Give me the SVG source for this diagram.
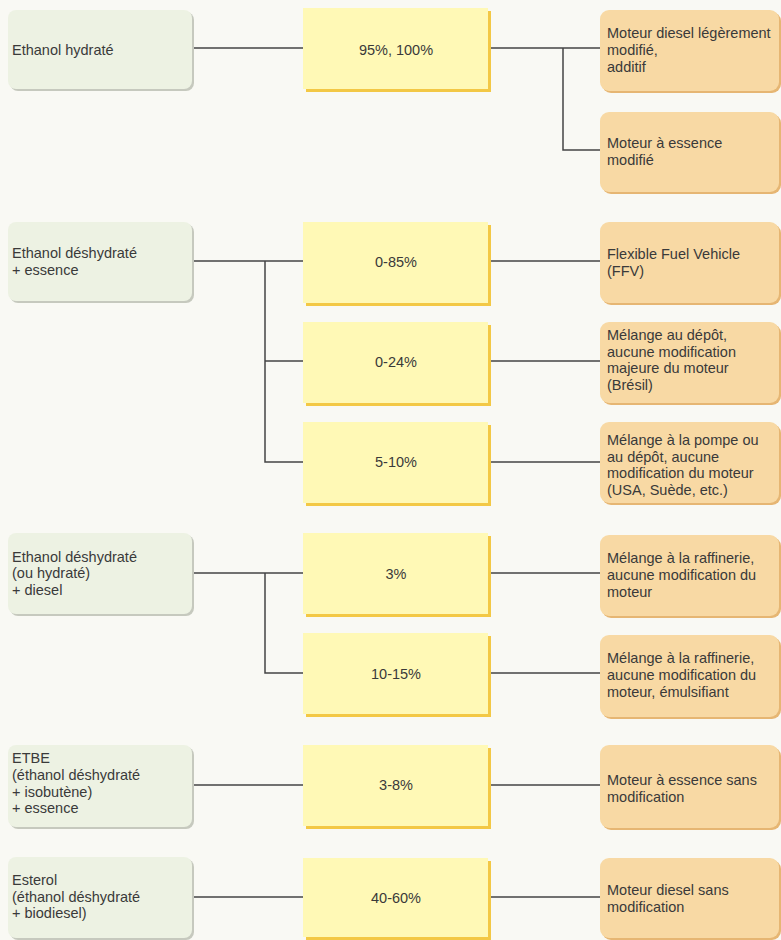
<svg xmlns="http://www.w3.org/2000/svg" width="781" height="940" viewBox="0 0 781 940">
<style>
.bg{fill:#F9F9F4}
.gs{fill:#C6C9BE}
.g{fill:#EDF2E3}
.ys{fill:#F3C845}
.y{fill:#FFF9B6}
.os{fill:#E6B673}
.o{fill:#F8D9A4}
text{font-family:"Liberation Sans",Arial,sans-serif;font-size:14.5px;fill:#3a3a3a}
.c{text-anchor:middle}
.ln{stroke:#444;stroke-width:1.5;fill:none}
</style>
<rect class="bg" x="0" y="0" width="781" height="940"/>
<g id="connectors">
<path class="ln" d="M192 48H303M490 48H600M563 48V150H600"/>
<path class="ln" d="M192 261H303M265 261V462H303M265 361H303M490 261H600M490 361H600M490 462H600"/>
<path class="ln" d="M192 573H303M265 573V673H303M490 573H600M490 673H600"/>
<path class="ln" d="M192 785H303M490 785H600"/>
<path class="ln" d="M192 897H303M490 897H600"/>
</g>
<g id="g1"><rect class="gs" x="10" y="12" width="184" height="79" rx="8"/><rect class="g" x="8" y="10" width="184" height="79" rx="8"/><text x="12" y="55">Ethanol hydraté</text></g>
<g id="g2"><rect class="gs" x="10" y="224" width="184" height="79" rx="8"/><rect class="g" x="8" y="222" width="184" height="79" rx="8"/><text x="12" y="258">Ethanol déshydraté</text><text x="12" y="275">+ essence</text></g>
<g id="g3"><rect class="gs" x="10" y="535" width="184" height="81" rx="8"/><rect class="g" x="8" y="533" width="184" height="81" rx="8"/><text x="12" y="562">Ethanol déshydraté</text><text x="12" y="578">(ou hydraté)</text><text x="12" y="595">+ diesel</text></g>
<g id="g4"><rect class="gs" x="10" y="747" width="184" height="82" rx="8"/><rect class="g" x="8" y="745" width="184" height="82" rx="8"/><text x="12" y="763">ETBE</text><text x="12" y="780">(éthanol déshydraté</text><text x="12" y="797">+ isobutène)</text><text x="12" y="813">+ essence</text></g>
<g id="g5"><rect class="gs" x="10" y="859" width="184" height="81" rx="8"/><rect class="g" x="8" y="857" width="184" height="81" rx="8"/><text x="12" y="885">Esterol</text><text x="12" y="902">(éthanol déshydraté</text><text x="12" y="918">+ biodiesel)</text></g>
<g id="y1"><rect class="ys" x="306" y="11" width="185" height="81"/><rect class="y" x="303" y="8" width="185" height="81"/><text class="c" x="396" y="55">95%, 100%</text></g>
<g id="y2"><rect class="ys" x="306" y="225" width="185" height="81"/><rect class="y" x="303" y="222" width="185" height="81"/><text class="c" x="396" y="267">0-85%</text></g>
<g id="y3"><rect class="ys" x="306" y="325" width="185" height="81"/><rect class="y" x="303" y="322" width="185" height="81"/><text class="c" x="396" y="367">0-24%</text></g>
<g id="y4"><rect class="ys" x="306" y="425" width="185" height="81"/><rect class="y" x="303" y="422" width="185" height="81"/><text class="c" x="396" y="467">5-10%</text></g>
<g id="y5"><rect class="ys" x="306" y="536" width="185" height="81"/><rect class="y" x="303" y="533" width="185" height="81"/><text class="c" x="396" y="579">3%</text></g>
<g id="y6"><rect class="ys" x="306" y="636" width="185" height="81"/><rect class="y" x="303" y="633" width="185" height="81"/><text class="c" x="396" y="679">10-15%</text></g>
<g id="y7"><rect class="ys" x="306" y="748" width="185" height="81"/><rect class="y" x="303" y="745" width="185" height="81"/><text class="c" x="396" y="790">3-8%</text></g>
<g id="y8"><rect class="ys" x="306" y="861" width="185" height="81"/><rect class="y" x="303" y="858" width="185" height="79"/><text class="c" x="396" y="903">40-60%</text></g>
<g id="o1"><rect class="os" x="602" y="12" width="179" height="81" rx="9"/><rect class="o" x="600" y="10" width="179" height="81" rx="9"/><text x="607" y="38">Moteur diesel légèrement</text><text x="607" y="55">modifié,</text><text x="607" y="72">additif</text></g>
<g id="o2"><rect class="os" x="602" y="114" width="179" height="80" rx="9"/><rect class="o" x="600" y="112" width="179" height="80" rx="9"/><text x="607" y="148">Moteur à essence</text><text x="607" y="165">modifié</text></g>
<g id="o3"><rect class="os" x="602" y="224" width="179" height="81" rx="9"/><rect class="o" x="600" y="222" width="179" height="81" rx="9"/><text x="607" y="259">Flexible Fuel Vehicle</text><text x="607" y="276">(FFV)</text></g>
<g id="o4"><rect class="os" x="602" y="324" width="179" height="81" rx="9"/><rect class="o" x="600" y="322" width="179" height="81" rx="9"/><text x="607" y="340">Mélange au dépôt,</text><text x="607" y="357">aucune modification</text><text x="607" y="373">majeure du moteur</text><text x="607" y="390">(Brésil)</text></g>
<g id="o5"><rect class="os" x="602" y="424" width="179" height="81" rx="9"/><rect class="o" x="600" y="422" width="179" height="81" rx="9"/><text x="607" y="445">Mélange à la pompe ou</text><text x="607" y="462">au dépôt, aucune</text><text x="607" y="478">modification du moteur</text><text x="607" y="495">(USA, Suède, etc.)</text></g>
<g id="o6"><rect class="os" x="602" y="537" width="179" height="81" rx="9"/><rect class="o" x="600" y="535" width="179" height="81" rx="9"/><text x="607" y="563">Mélange à la raffinerie,</text><text x="607" y="580">aucune modification du</text><text x="607" y="597">moteur</text></g>
<g id="o7"><rect class="os" x="602" y="637" width="179" height="82" rx="9"/><rect class="o" x="600" y="635" width="179" height="82" rx="9"/><text x="607" y="663">Mélange à la raffinerie,</text><text x="607" y="680">aucune modification du</text><text x="607" y="697">moteur, émulsifiant</text></g>
<g id="o8"><rect class="os" x="602" y="747" width="179" height="83" rx="9"/><rect class="o" x="600" y="745" width="179" height="83" rx="9"/><text x="607" y="785">Moteur à essence sans</text><text x="607" y="802">modification</text></g>
<g id="o9"><rect class="os" x="602" y="860" width="179" height="80" rx="9"/><rect class="o" x="600" y="858" width="179" height="80" rx="9"/><text x="607" y="895">Moteur diesel sans</text><text x="607" y="912">modification</text></g>
</svg>
